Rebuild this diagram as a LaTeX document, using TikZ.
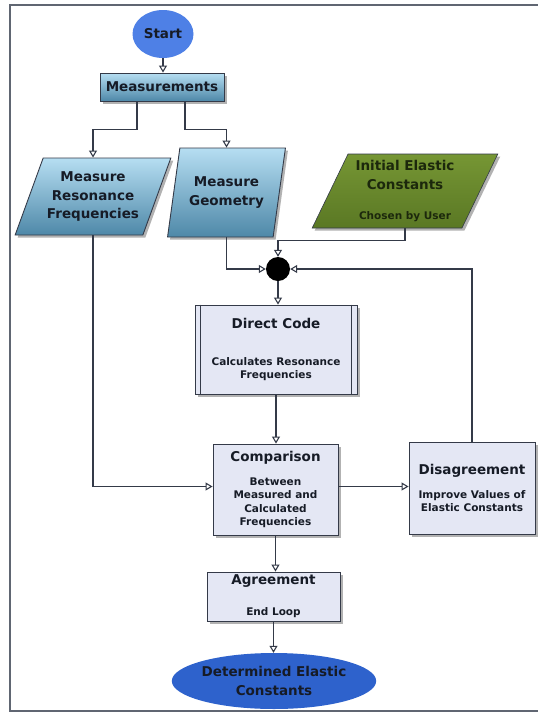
\documentclass[tikz,border=0pt]{standalone}
\usepackage{fontspec}
\setmainfont{DejaVu Sans}
\usetikzlibrary{arrows.meta,shapes.geometric,shadows}
\definecolor{linegray}{RGB}{52,58,72}
\definecolor{framegray}{RGB}{96,102,114}
\definecolor{txtdark}{RGB}{22,27,38}
\definecolor{boxfill}{RGB}{228,231,244}
\definecolor{lightblue}{RGB}{182,222,242}
\definecolor{deepblue}{RGB}{78,136,168}
\definecolor{grasstop}{RGB}{118,150,52}
\definecolor{grassbot}{RGB}{90,120,36}
\definecolor{grasstxt}{RGB}{28,40,12}
\definecolor{startblue}{RGB}{78,128,230}
\definecolor{endblue}{RGB}{46,98,204}
\newcommand\ttlfont{\fontsize{13.5}{18.5}\selectfont\bfseries}
\newcommand\subfont{\fontsize{10.5}{13.5}\selectfont\bfseries}

\begin{document}
\begin{tikzpicture}[x=1pt,y=-1pt,>={Triangle[fill=white,length=7pt,width=8pt]},
    conn/.style={->,draw=linegray,line width=1.1pt},
    boxshadow/.style={drop shadow={shadow xshift=2.5pt,shadow yshift=-2.5pt,fill=black!60,opacity=.5}},
    para/.style 2 args={trapezium,trapezium stretches=true,trapezium left angle=#1,trapezium right angle=#2},
    bluebox/.style={boxshadow,draw=linegray,line width=0.9pt,top color=lightblue,bottom color=deepblue,text=txtdark,font=\ttlfont,align=center,inner sep=0pt},
    greenbox/.style={boxshadow,draw=linegray,line width=0.6pt,top color=grasstop,bottom color=grassbot,text=grasstxt,font=\ttlfont,align=center,inner sep=0pt},
    procbox/.style={boxshadow,draw=linegray,line width=0.9pt,fill=boxfill,text=txtdark,font=\subfont,align=center,inner sep=0pt},
    startend/.style={ellipse,draw=none,text=txtdark,font=\ttlfont,align=center,inner sep=0pt},
    merge/.style={circle,fill=black,minimum size=24pt,inner sep=0pt}]
    \useasboundingbox (0,0) rectangle (538,713);
    \draw[framegray,line width=2pt] (9.5,5) rectangle (560,711);
    \node[startend,fill=startblue,minimum width=61,minimum height=48] (start) at (163,34) {Start};
    \node[bluebox,minimum width=124,minimum height=28] (meas) at (162,87) {Measurements};
    \node[bluebox,para={62.5}{117.5},minimum width=156,minimum height=77] (mrf) at (93,196.5) {Measure\\Resonance\\Frequencies};
    \node[bluebox,para={72.5}{107.5},minimum width=119,minimum height=89] (mg) at (226.5,192.5) {Measure\\Geometry};
    \node[greenbox,para={63}{117},minimum width=186,minimum height=74] (iec) at (405,191) {Initial Elastic\\Constants\\[11.5pt]{\subfont Chosen by User}};
    \node[merge] (merge) at (278,269) {};
    \node[procbox,minimum width=162,minimum height=89] (dc) at (276,349.5) {{\ttlfont Direct Code}\\[23pt]Calculates Resonance\\Frequencies};
    \draw[linegray,line width=0.9pt] ([xshift=6]dc.north west) -- ([xshift=6]dc.south west) ([xshift=-6]dc.north east) -- ([xshift=-6]dc.south east);
    \node[procbox,minimum width=125,minimum height=91] (cmp) at (275.5,489.5) {{\ttlfont Comparison}\\[10pt]Between\\Measured and\\Calculated\\Frequencies};
    \node[procbox,minimum width=126,minimum height=92] (dis) at (472,488) {{\ttlfont Disagreement}\\[10pt]Improve Values of\\Elastic Constants};
    \node[procbox,minimum width=133,minimum height=49] (agr) at (273.5,596.5) {{\ttlfont Agreement}\\[17.5pt]End Loop};
    \node[startend,fill=endblue,minimum width=200,minimum height=56] (det) at (274,681) {Determined Elastic\\Constants};
    \draw[conn] (start.south) -- (start.south |- meas.north);
    \draw[conn] ([xshift=-25]meas.south) -- ++(0,28) -| (mrf.north);
    \draw[conn] ([xshift=23]meas.south) -- ++(0,28) -| (mg.north);
    \draw[conn] (mrf.south) |- ([yshift=3]cmp.west);
    \draw[conn] (mg.south) |- (merge.west);
    \draw[conn] (iec.south) -- ++(0,12) -| (merge.north);
    \draw[conn] (dis.north) |- (merge.east);
    \draw[conn] (merge.south) -- (merge.south |- dc.north);
    \draw[conn] (dc.south) -- (dc.south |- cmp.north);
    \draw[conn] ([yshift=3]cmp.east) -- ([yshift=3]cmp.east -| dis.west);
    \draw[conn] (cmp.south) -- (cmp.south |- agr.north);
    \draw[conn] (agr.south) -- (agr.south |- det.north);
\end{tikzpicture}
\end{document}
